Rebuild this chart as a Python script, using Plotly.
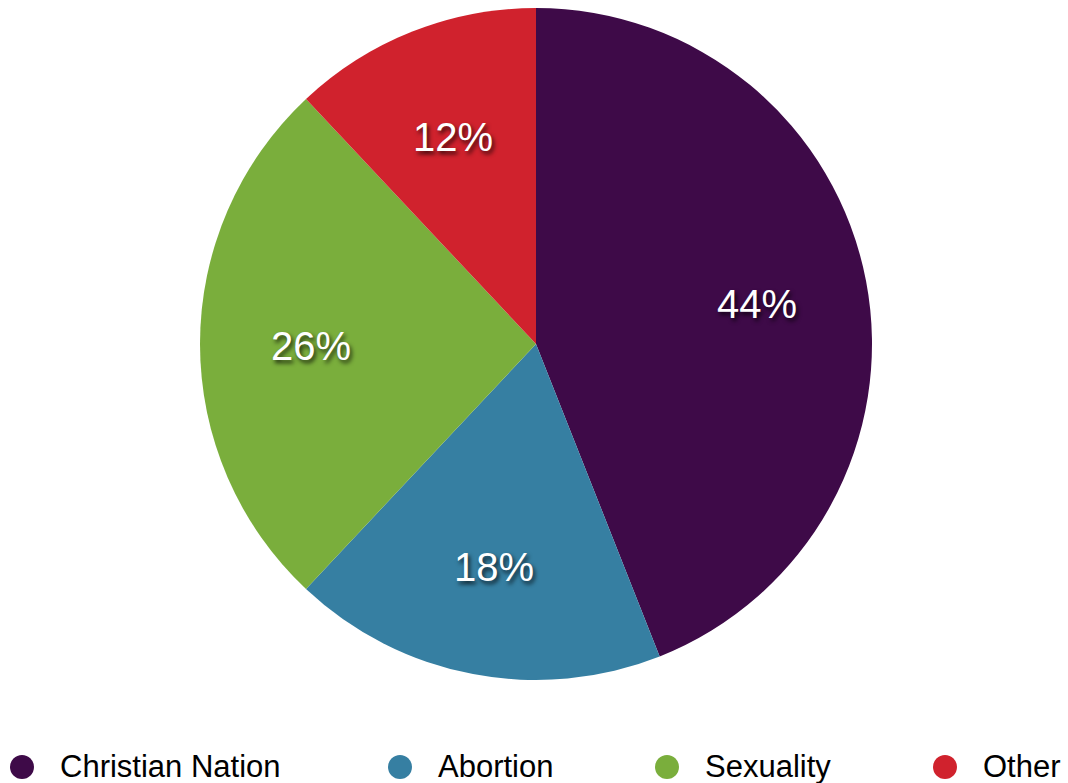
import math
import plotly.graph_objects as go

# Share of responses by topic
categories = ["Christian Nation", "Abortion", "Sexuality", "Other"]
shares = [44, 18, 26, 12]
colors = ["#3E0A48", "#367FA2", "#7AAE3C", "#D0222D"]

W, H = 1068, 783
CX, CY, R = 536, 344, 336          # pie centre / radius in pixels
LABEL_R = 0.67                     # label distance as fraction of radius
LABEL_DY = 2                       # small downward nudge for the labels
legend_marker_x = [22, 400, 667, 945]
legend_y = 767

fig = go.Figure(
    go.Pie(
        labels=categories,
        values=shares,
        sort=False,
        direction="clockwise",
        rotation=0,
        marker=dict(colors=colors, line=dict(width=0)),
        textinfo="none",
        hoverinfo="label+percent",
        showlegend=False,
        domain=dict(
            x=[(CX - R) / W, (CX + R) / W],
            y=[1 - (CY + R) / H, 1 - (CY - R) / H],
        ),
    )
)

annotations = []
shapes = []

# Percentage labels at slice mid-angles
total = sum(shares)
cum = 0
for v in shares:
    mid = (cum + v / 2) / total * 2 * math.pi
    cum += v
    px = CX + LABEL_R * R * math.sin(mid)
    py = CY - LABEL_R * R * math.cos(mid) + LABEL_DY
    annotations.append(dict(
        x=px / W, y=1 - py / H, xref="paper", yref="paper",
        text=f"{round(v / total * 100)}%", showarrow=False,
        xanchor="center", yanchor="middle",
        font=dict(family="Liberation Sans, Arial, sans-serif", size=40, color="white",
                  shadow="2px 3px 4px rgba(0,0,0,0.75)"),
    ))

# Legend: round markers with labels
for name, col, mx in zip(categories, colors, legend_marker_x):
    shapes.append(dict(
        type="circle", xref="paper", yref="paper",
        x0=(mx - 12) / W, x1=(mx + 12) / W,
        y0=1 - (legend_y + 12) / H, y1=1 - (legend_y - 12) / H,
        fillcolor=col, line=dict(width=0),
    ))
    annotations.append(dict(
        x=(mx + 36) / W, y=1 - (legend_y - 1) / H, xref="paper", yref="paper",
        text=name, showarrow=False, xanchor="left", yanchor="middle",
        font=dict(family="Liberation Sans, Arial, sans-serif", size=31, color="black"),
    ))

fig.update_layout(
    width=W, height=H,
    margin=dict(l=0, r=0, t=0, b=0),
    paper_bgcolor="white",
    plot_bgcolor="white",
    annotations=annotations,
    shapes=shapes,
)

fig.write_html("out.html")
